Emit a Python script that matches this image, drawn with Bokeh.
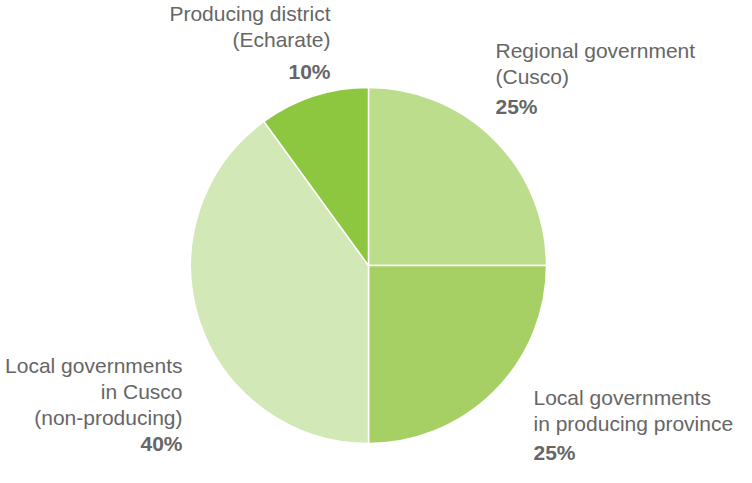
import math
from bokeh.plotting import figure
from bokeh.models import ColumnDataSource
from bokeh.core.properties import value
from bokeh.embed import file_html
from bokeh.resources import INLINE

# data
categories = ["Regional government (Cusco)",
              "Local governments in producing province",
              "Local governments in Cusco (non-producing)",
              "Producing district (Echarate)"]
shares = [25, 25, 40, 10]
label_lines = [["Regional government", "(Cusco)"],
               ["Local governments", "in producing province"],
               ["Local governments", "in Cusco", "(non-producing)"],
               ["Producing district", "(Echarate)"]]
colors = ["#bbdd8c", "#a6d064", "#d3e8b7", "#8dc63f"]

W, H = 736, 467
p = figure(width=W, height=H, x_range=(0, W), y_range=(0, H),
           output_backend="svg", toolbar_location=None, min_border=0)
p.axis.visible = False
p.grid.visible = False
p.outline_line_color = None
p.background_fill_color = "white"

cx, cy, r = 368, H - 265, 178
total = sum(shares)
starts, ends = [], []
cum = 0
for s in shares:
    a0 = math.pi / 2 - 2 * math.pi * (cum + s) / total
    a1 = math.pi / 2 - 2 * math.pi * cum / total
    starts.append(a0)
    ends.append(a1)
    cum += s

src = ColumnDataSource(dict(start=starts, end=ends, color=colors, cat=categories))
p.wedge(x=cx, y=cy, radius=r, start_angle="start", end_angle="end",
        fill_color="color", line_color="white", line_width=1.5, source=src)

# label layout (px from top): anchor x, first line y, percent y, align
layout = [
    (495, 49.5, 105.5, "left"),
    (533, 397, 452, "left"),
    (182, 364.5, 442.5, "right"),
    (330, 12.5, 71, "right"),
]
line_h = 26.4
font = value("Liberation Sans")
fs = "21px"
for lines, s, (ax, ay, pyy, al) in zip(label_lines, shares, layout):
    ys = [H - (ay + i * line_h) for i in range(len(lines))]
    p.text(x=[ax] * len(lines), y=ys, text=lines, text_align=al,
           text_baseline="middle", text_font=font, text_font_size=fs,
           text_color="#666666")
    p.text(x=[ax], y=[H - pyy], text=[f"{s}%"], text_align=al,
           text_baseline="middle", text_font=font, text_font_size=fs,
           text_font_style="bold", text_color="#666666")

open("out.html", "w").write(file_html(p, INLINE))
